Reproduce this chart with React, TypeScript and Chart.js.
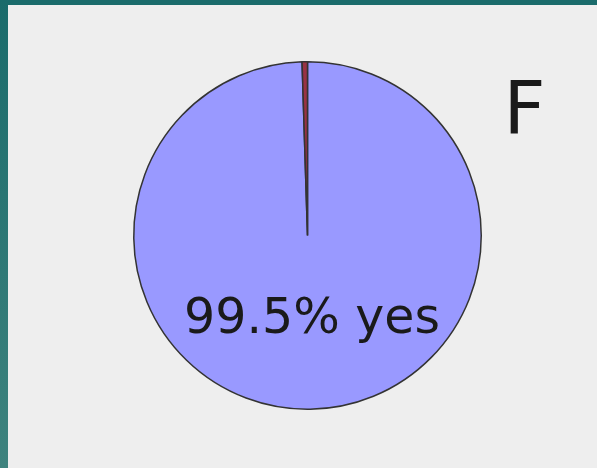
import React, { useEffect, useRef } from "react";
import { Chart, registerables } from "chart.js";

Chart.register(...registerables);

const labels: string[] = ["yes", "no"];
const values: number[] = [99.5, 0.5];
const colors: string[] = ["#9999ff", "#993344"];
const centerLabel = "99.5% yes";
const cornerLabel = "F";

const textPlugin = {
  id: "textPlugin",
  afterDraw(chart: any) {
    const ctx = chart.ctx;
    const meta = chart.getDatasetMeta(0);
    const arc = meta.data[0];
    const cx = arc.x;
    const cy = arc.y;
    ctx.save();
    ctx.fillStyle = "#1a1a1a";
    ctx.textAlign = "center";
    ctx.textBaseline = "alphabetic";
    ctx.font = "49px 'DejaVu Sans', sans-serif";
    ctx.fillText(centerLabel, cx + 4.5, cy + 97);
    ctx.font = "73px 'DejaVu Sans', sans-serif";
    ctx.textAlign = "left";
    ctx.fillText(cornerLabel, cx + 196, cy - 103);
    ctx.restore();
  },
};

export default function App() {
  const ref = useRef<HTMLCanvasElement | null>(null);
  useEffect(() => {
    document.body.style.margin = "0";
    const chart = new Chart(ref.current as HTMLCanvasElement, {
      type: "pie",
      data: {
        labels,
        datasets: [
          {
            data: values,
            backgroundColor: colors,
            borderColor: "#333333",
            borderWidth: 1.5,
          },
        ],
      },
      options: {
        animation: false,
        responsive: false,
        rotation: 0,
        layout: { padding: { top: 61, bottom: 58, left: 133, right: 115 } },
        plugins: { legend: { display: false }, tooltip: { enabled: false } },
      },
      plugins: [textPlugin],
    });
    return () => chart.destroy();
  }, []);
  return (
    <div
      style={{
        position: "relative",
        width: 597,
        height: 468,
        background: "#eeeeee",
        overflow: "hidden",
      }}
    >
      <div style={{ position: "absolute", left: 0, top: 0, width: 597, height: 5, background: "#1a6b6b" }} />
      <div
        style={{
          position: "absolute",
          left: 0,
          top: 0,
          width: 8,
          height: 468,
          background: "linear-gradient(#1a6b6b, #3e837e)",
        }}
      />
      <canvas ref={ref} width={597} height={468} style={{ position: "absolute", left: 0, top: 0 }} />
    </div>
  );
}
